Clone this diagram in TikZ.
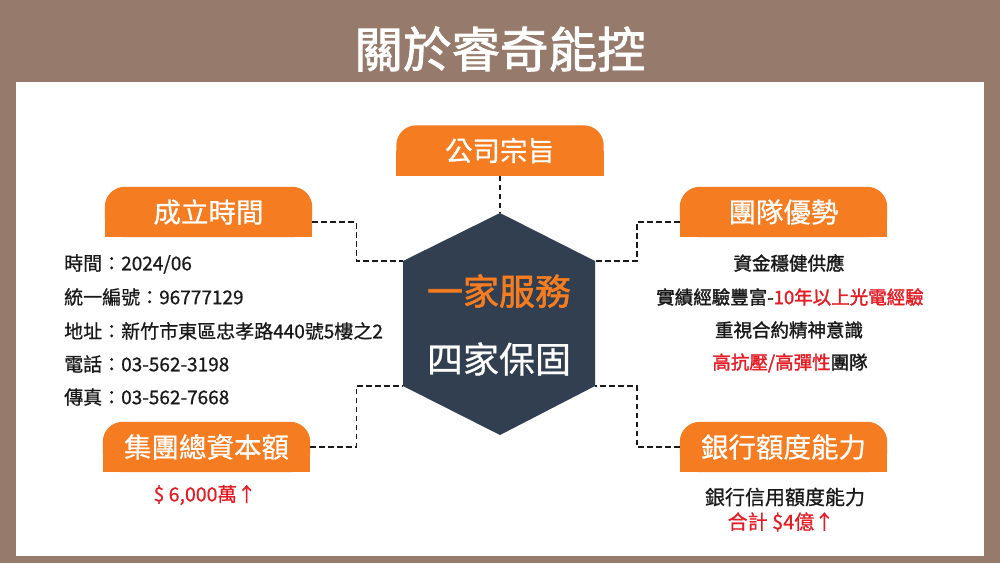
\documentclass[tikz,border=0pt]{standalone}
\usepackage{fontspec}
\setmainfont{Noto Sans CJK TC}
\newfontfamily\semib{Noto Sans CJK TC}[FakeBold=1.6]
\newfontfamily\medi{Noto Sans CJK TC}[FakeBold=0.7]
\usetikzlibrary{positioning, backgrounds}
\definecolor{frame}{RGB}{150,123,108}
\definecolor{accent}{RGB}{245,124,32}
\definecolor{hexfill}{RGB}{50,63,80}
\definecolor{alert}{RGB}{228,28,36}
\definecolor{ink}{RGB}{25,25,25}

\begin{document}
\begin{tikzpicture}[x=1pt, y=-1pt,
      tab/.style={minimum width=207pt, minimum height=50pt, inner sep=0pt,
                  text=white, font=\medi\fontsize{27.5}{30}\selectfont},
      info/.style={anchor=west, inner sep=0pt, text=ink, font=\medi\fontsize{19}{22}\selectfont},
      perk/.style={inner sep=0pt, text=ink, font=\semib\fontsize{18.5}{22}\selectfont},
      link/.style={draw=ink, line width=1.4pt, dash pattern=on 5.5pt off 3.5pt}
    ]
      \node[text=white, font=\semib\fontsize{48.5}{52}\selectfont] (title) at (500,49) {關於睿奇能控};

      % central hexagon
      \coordinate (hex top) at (500,213);
      \coordinate (hex ur) at (595,261);
      \coordinate (hex lr) at (595,386);
      \coordinate (hex bot) at (500,435);
      \coordinate (hex ll) at (403,386);
      \coordinate (hex ul) at (403,261);
      \fill[hexfill] (hex top) -- (hex ur) -- (hex lr) -- (hex bot) -- (hex ll) -- (hex ul) -- cycle;
      \node[text=accent, font=\semib\fontsize{36}{40}\selectfont] (one) at (499,291) {一家服務};
      \node[text=white, font=\medi\fontsize{36}{40}\selectfont] (four) at (499,359) {四家保固};

      % tabs
      \node[tab] (aim) at (500,150.5) {公司宗旨};
      \node[tab] (found) at (208.5,212) {成立時間};
      \node[tab] (team) at (783.5,212) {團隊優勢};
      \node[tab] (capital) at (206.5,447) {集團總資本額};
      \node[tab] (bank) at (783.5,447) {銀行額度能力};

      \begin{scope}[on background layer]
        \fill[frame] (0,0) rectangle (1000,563);
        \fill[white] (16,82) rectangle (984,556);
        \foreach \t in {aim,found,team,capital,bank} {
          \fill[accent, rounded corners=20pt] (\t.south west) rectangle (\t.north east);
          \fill[accent] (\t.south west) rectangle (\t.east);
        }
      \end{scope}

      % connectors
      \draw[link] (aim.south) -- (hex top);
      \draw[link] ([yshift=-10pt]found.east) -- ++(44,0) |- (hex ul);
      \draw[link] ([yshift=-10pt]team.west) -- ++(-43,0) |- (hex ur);
      \draw[link] (capital.east) -- ++(46,0) |- (hex ll);
      \draw[link] (bank.west) -- ++(-43,0) |- (hex lr);

      % company facts
      \node[info] (date) at (64,264) {時間：2024/06};
      \node[info] (taxid) at (64,297) {統一編號：96777129};
      \node[info] (addr) at (64,331) {地址：新竹市東區忠孝路440號5樓之2};
      \node[info] (phone) at (64,364) {電話：03-562-3198};
      \node[info] (fax) at (64,397) {傳真：03-562-7668};

      % team strengths
      \node[perk] (fund) at (789,263) {資金穩健供應};
      \node[perk] (record) at (790,297) {實績經驗豐富-\textcolor{alert}{10年以上光電經驗}};
      \node[perk] (contract) at (789,330) {重視合約精神意識};
      \node[perk] (stress) at (790,363) {\textcolor{alert}{高抗壓/高彈性}團隊};

      % capital and credit
      \node[inner sep=0pt, text=alert, font=\medi\fontsize{19.5}{22}\selectfont] (capnote) at (205,495) {\$ 6,000萬↑};
      \node[inner sep=0pt, text=ink, font=\medi\fontsize{20}{24}\selectfont] (banknote) at (785,497) {銀行信用額度能力};
      \node[inner sep=0pt, text=alert, font=\medi\fontsize{20}{24}\selectfont] (banktotal) at (781,522) {合計 \$4億↑};
    \end{tikzpicture}
\end{document}
